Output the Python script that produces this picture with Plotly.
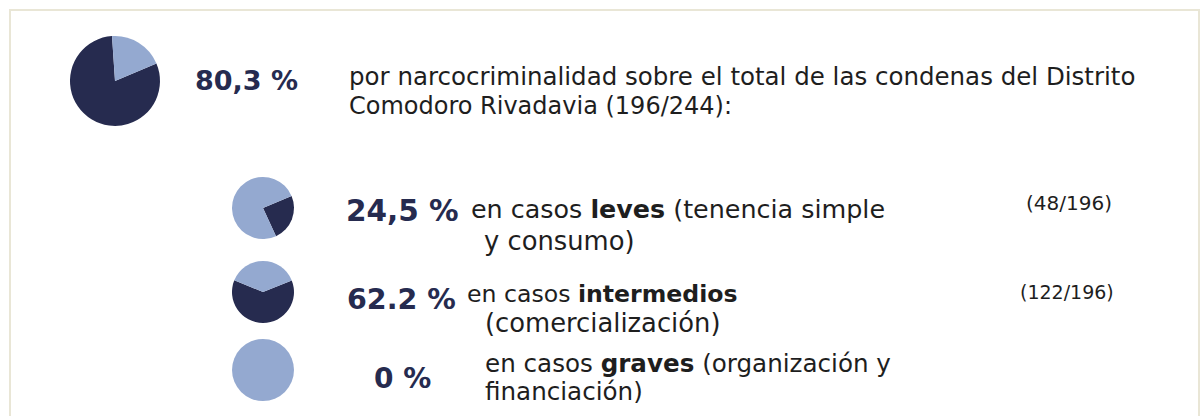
import plotly.graph_objects as go

W, H = 1202, 416

# data
pie_names = ["total", "leves", "intermedios", "graves"]
narco = [196, 48, 122, 0]          # dark slice
resto = [48, 148, 74, 196]         # light slice
rotations = [67, 67, 68, 0]
pct_labels = ["80,3 %", "24,5 %", "62.2 %", "0 %"]
ratio_labels = ["(48/196)", "(122/196)"]

DARK = "#262b4f"
LIGHT = "#94a9d0"
TEXT = "#1e1e1e"

# pie geometry in pixels (center x, center y from top, radius)
geom = [(115, 81, 45), (263, 208, 31), (263, 292, 31), (263, 370, 31)]

fig = go.Figure()
for i, name in enumerate(pie_names):
    cx, cy, r = geom[i]
    fig.add_trace(go.Pie(
        values=[narco[i], resto[i]],
        labels=["narcocriminalidad", "otras"],
        marker=dict(colors=[DARK, LIGHT], line=dict(width=0)),
        sort=False, direction="clockwise", rotation=rotations[i],
        textinfo="none", showlegend=False, name=name,
        domain=dict(x=[(cx - r) / W, (cx + r) / W],
                    y=[(H - cy - r) / H, (H - cy + r) / H]),
    ))

FONT = "DejaVu Sans"

def ann(x, y, text, size, color=TEXT, bold=False, family=FONT):
    if bold:
        text = "<b>" + text + "</b>"
    fig.add_annotation(x=x / W, y=(H - y) / H, xref="paper", yref="paper",
                       text=text, showarrow=False, xanchor="left", yanchor="middle",
                       font=dict(family=family, size=size, color=color))

# big numbers
ann(193, 80, pct_labels[0], 27, DARK, True)
ann(344, 211, pct_labels[1], 29.5, DARK, True)
ann(345, 299, pct_labels[2], 28.5, DARK, True)
ann(372, 378, pct_labels[3], 28, DARK, True)

# descriptions
ann(347, 76, "por narcocriminalidad sobre el total de las condenas del Distrito", 24.5)
ann(347, 106, "Comodoro Rivadavia (196/244):", 24)

ann(469, 209, "en casos <b>leves</b> (tenencia simple", 25.4)
ann(482, 241, "y consumo)", 25.8)
ann(465, 294, "en casos <b>intermedios</b>", 23.6)
ann(483, 323, "(comercialización)", 25.8)
ann(483, 363, "en casos <b>graves</b> (organización y", 24.6)
ann(483, 391, "financiación)", 24.6)

ann(1024, 203, ratio_labels[0], 20)
ann(1018, 292, ratio_labels[1], 19)

# frame
fig.add_shape(type="rect", xref="paper", yref="paper",
              x0=10 / W, x1=1199 / W, y0=-0.1, y1=(H - 10) / H,
              line=dict(color="#e9e6d6", width=2), fillcolor="rgba(0,0,0,0)")

fig.update_layout(width=W, height=H, margin=dict(l=0, r=0, t=0, b=0),
                  paper_bgcolor="white", plot_bgcolor="white")

fig.write_html("out.html", config={"displayModeBar": False},
               post_script="document.body.style.margin='0';document.body.style.overflow='hidden';")
